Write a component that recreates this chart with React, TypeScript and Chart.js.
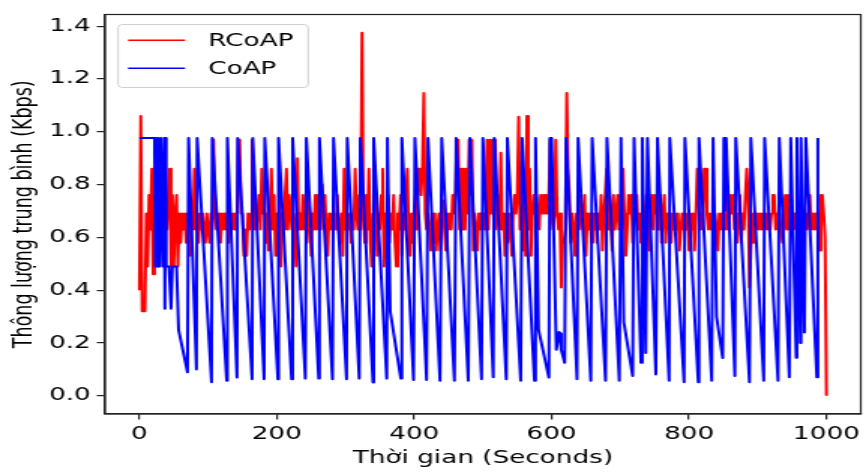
import React, { useEffect, useRef } from "react";
import { Chart, registerables } from "chart.js";

Chart.register(...registerables);

// ---------- data ----------
const SERIES_NAMES = ["RCoAP", "CoAP"];
const X_TITLE = "Thời gian (Seconds)";
const Y_TITLE = "Thông lượng trung bình (Kbps)";
const X_TICKS = [0, 200, 400, 600, 800, 1000];
const Y_TICKS = [0, 0.2, 0.4, 0.6, 0.8, 1.0, 1.2, 1.4];

// RCoAP: one sample every 2 seconds, from t = 0 to t = 1000
const RCOAP_STEP = 2;
const rcoapValues = [
  0.40, 1.06, 0.32, 0.32, 0.32, 0.69, 0.49, 0.76, 0.63, 0.86, 0.46, 0.76, 0.55, 0.76, 0.49, 0.69, 0.58, 0.76, 0.53, 0.69, 0.63, 0.76, 0.86, 0.49, 0.76,
  0.49, 0.69, 0.76, 0.49, 0.69, 0.58, 0.69, 0.63, 0.69, 0.58, 0.69, 0.63, 0.53, 0.69, 0.63, 0.86, 0.63, 0.69, 0.58, 0.69, 0.63, 0.69, 0.63, 0.58, 0.69,
  0.63, 0.58, 0.69, 0.63, 0.97, 0.69, 0.63, 0.69, 0.63, 0.58, 0.69, 0.63, 0.69, 0.63, 0.69, 0.58, 0.69, 0.63, 0.69, 0.63, 0.69, 0.63, 0.97, 0.97, 0.69,
  0.69, 0.53, 0.63, 0.53, 0.69, 0.63, 0.69, 0.97, 0.63, 0.76, 0.63, 0.69, 0.76, 0.63, 0.86, 0.69, 0.76, 0.58, 0.69, 0.55, 0.69, 0.86, 0.63, 0.76, 0.53,
  0.69, 0.53, 0.76, 0.49, 0.69, 0.63, 0.76, 0.86, 0.63, 0.76, 0.69, 0.63, 0.69, 0.63, 0.49, 0.90, 0.63, 0.69, 0.63, 0.76, 0.63, 0.69, 0.58, 0.76, 0.69,
  0.53, 0.69, 0.63, 0.76, 0.63, 0.69, 0.76, 0.63, 0.80, 0.69, 0.76, 0.63, 0.53, 0.69, 0.63, 0.69, 0.63, 0.69, 0.63, 0.76, 0.63, 0.58, 0.69, 0.53, 0.86,
  0.63, 0.69, 0.63, 0.69, 0.58, 0.69, 0.63, 0.86, 0.69, 0.63, 0.76, 0.63, 1.375, 0.69, 0.58, 0.76, 0.63, 0.86, 0.58, 0.49, 0.69, 0.63, 0.76, 0.53, 0.69,
  0.63, 0.76, 0.86, 0.49, 0.69, 0.63, 0.76, 0.58, 0.69, 0.63, 0.76, 0.58, 0.49, 0.69, 0.63, 0.76, 0.53, 0.69, 0.63, 0.76, 0.86, 0.63, 0.53, 0.69, 0.58,
  0.69, 0.76, 0.63, 0.86, 0.86, 0.76, 0.86, 1.147, 0.69, 0.63, 0.69, 0.63, 0.55, 0.69, 0.58, 0.69, 0.55, 0.63, 0.69, 0.55, 0.69, 0.74, 0.63, 0.55, 0.69,
  0.63, 0.69, 0.63, 0.76, 0.69, 0.76, 0.97, 0.97, 0.63, 0.86, 0.63, 0.86, 0.63, 0.86, 0.69, 0.97, 0.76, 0.97, 0.55, 0.69, 0.63, 0.55, 0.69, 0.63, 0.69,
  0.63, 0.69, 0.63, 0.97, 0.63, 0.97, 0.69, 0.97, 0.63, 0.97, 0.69, 0.76, 0.63, 0.92, 0.63, 0.69, 0.53, 0.69, 0.58, 0.69, 0.63, 0.53, 0.69, 0.76, 0.69,
  0.76, 1.057, 0.63, 0.86, 0.55, 0.76, 0.53, 1.06, 0.63, 0.86, 0.53, 0.69, 0.76, 0.69, 0.76, 0.69, 0.63, 0.76, 0.69, 0.76, 0.69, 0.76, 0.69, 0.76, 0.97,
  0.69, 0.63, 0.69, 0.97, 0.69, 0.63, 0.69, 0.41, 0.58, 0.58, 0.63, 1.147, 0.86, 0.76, 0.58, 0.69, 0.63, 0.53, 0.69, 0.76, 0.63, 0.76, 0.69, 0.63, 0.76,
  0.53, 0.69, 0.63, 0.69, 0.58, 0.69, 0.63, 0.69, 0.58, 0.69, 0.63, 0.76, 0.55, 0.69, 0.76, 0.86, 0.63, 0.76, 0.69, 0.55, 0.76, 0.63, 0.69, 0.76, 0.63,
  0.76, 0.63, 0.86, 0.69, 0.53, 0.63, 0.76, 0.69, 0.76, 0.58, 0.76, 0.69, 0.76, 0.63, 0.69, 0.58, 0.69, 0.63, 0.69, 0.76, 0.63, 0.55, 0.69, 0.76, 0.63,
  0.76, 0.69, 0.76, 0.63, 0.76, 0.58, 0.69, 0.76, 0.58, 0.69, 0.63, 0.69, 0.58, 0.69, 0.63, 0.69, 0.63, 0.69, 0.55, 0.63, 0.69, 0.63, 0.69, 0.63, 0.69,
  0.55, 0.69, 0.63, 0.69, 0.55, 0.69, 0.86, 0.76, 0.63, 0.69, 0.63, 0.86, 0.86, 0.69, 0.63, 0.69, 0.63, 0.69, 0.63, 0.69, 0.63, 0.55, 0.69, 0.63, 0.69,
  0.63, 0.69, 0.63, 0.76, 0.63, 0.76, 0.69, 0.76, 0.63, 0.76, 0.58, 0.69, 0.76, 0.58, 0.69, 0.63, 0.76, 0.86, 0.76, 0.41, 0.55, 0.69, 0.58, 0.69, 0.63,
  0.69, 0.63, 0.69, 0.63, 0.69, 0.63, 0.69, 0.63, 0.69, 0.63, 0.69, 0.76, 0.76, 0.63, 0.69, 0.63, 0.69, 0.63, 0.58, 0.69, 0.76, 0.63, 0.76, 0.69, 0.63,
  0.69, 0.63, 0.69, 0.63, 0.69, 0.63, 0.69, 0.63, 0.69, 0.63, 0.69, 0.63, 0.69, 0.76, 0.63, 0.69, 0.63, 0.69, 0.63, 0.69, 0.55, 0.76, 0.76, 0.69, 0.60,
  0.0,
];

// CoAP: sawtooth vertices (time in seconds, value in Kbps)
const coapTime = [
  0, 22, 23, 24, 26, 27, 29, 31, 33, 34, 36, 37, 38, 39, 43, 46, 48, 54, 57, 70,
  71.5, 83, 84, 105, 106, 127, 128, 142, 143, 164,
  165, 181.5, 182.5, 201.5, 202.5, 221.5, 223, 241.5, 243, 261,
  262, 281, 282.5, 301.5, 302.5, 320, 321.5, 340, 341, 360,
  361, 365, 380.5, 382, 399, 401, 418, 420, 437.5, 440,
  458.5, 461, 478.7, 481, 498, 500, 515, 516.5, 534, 535.5,
  555, 557, 575, 576.6, 581, 596, 597.5, 600, 606.8, 610.8,
  612, 614, 619, 621, 637, 638.5, 657, 659, 678.5, 680.5,
  698.5, 701, 705, 718, 720, 730, 732, 737, 739.5, 751.7,
  754, 771, 772, 792.8, 794, 813.5, 814.5, 833, 835, 840,
  849, 850.7, 852, 854, 866.7, 868, 888, 890, 908.7, 910,
  929.5, 931.4, 946, 948, 956, 957, 962, 963, 968, 970,
  986, 987.5,
];
const coapValue = [
  0.976, 0.976, 0.49, 0.976, 0.49, 0.976, 0.49, 0.976, 0.976, 0.49, 0.976, 0.33, 0.976, 0.49, 0.49, 0.33, 0.49, 0.49, 0.25, 0.089,
  0.976, 0.1, 0.976, 0.051, 0.976, 0.057, 0.976, 0.069, 0.976, 0.063,
  0.976, 0.063, 0.976, 0.063, 0.976, 0.063, 0.976, 0.065, 0.976, 0.065,
  0.976, 0.063, 0.976, 0.063, 0.976, 0.065, 0.976, 0.05, 0.976, 0.065,
  0.976, 0.32, 0.065, 0.976, 0.06, 0.976, 0.06, 0.976, 0.057, 0.976,
  0.057, 0.976, 0.057, 0.976, 0.063, 0.976, 0.07, 0.976, 0.063, 0.976,
  0.057, 0.976, 0.057, 0.976, 0.25, 0.069, 0.976, 0.976, 0.174, 0.242,
  0.236, 0.174, 0.125, 0.976, 0.063, 0.976, 0.057, 0.976, 0.057, 0.976,
  0.057, 0.976, 0.28, 0.075, 0.976, 0.125, 0.976, 0.162, 0.976, 0.081,
  0.976, 0.057, 0.976, 0.051, 0.976, 0.051, 0.976, 0.057, 0.976, 0.3,
  0.143, 0.976, 0.7, 0.976, 0.075, 0.976, 0.051, 0.976, 0.057, 0.976,
  0.057, 0.976, 0.07, 0.976, 0.144, 0.976, 0.2, 0.976, 0.24, 0.976,
  0.07, 0.976,
];

// ---------- layout (canvas drawn narrow, shown stretched like the source image) ----------
const OUT_W = 866;
const OUT_H = 472;
const STRETCH = 1.5;
const CANVAS_W = Math.round(OUT_W / STRETCH);
const FONT = '"DejaVu Sans", "Liberation Sans", sans-serif';
const FONT_SIZE = 17.5;

const decorPlugin = {
  id: "decor",
  afterDatasetsDraw(chart: any) {
    const { ctx, chartArea: a } = chart;
    ctx.save();
    // full frame (matplotlib spines)
    ctx.strokeStyle = "#222";
    ctx.lineWidth = 1.2;
    ctx.strokeRect(a.left, a.top, a.right - a.left, a.bottom - a.top);

    // legend box in upper-left corner
    const bx = a.left + 8.7;
    const by = a.top + 10;
    const bw = 126.6;
    const bh = 63;
    ctx.beginPath();
    if ((ctx as any).roundRect) (ctx as any).roundRect(bx, by, bw, bh, 3);
    else ctx.rect(bx, by, bw, bh);
    ctx.fillStyle = "rgba(255,255,255,0.85)";
    ctx.fill();
    ctx.strokeStyle = "#cfcfcf";
    ctx.lineWidth = 1;
    ctx.stroke();

    const ds = chart.data.datasets;
    const rows = [by + 15.7, by + 43.7];
    ds.forEach((d: any, i: number) => {
      ctx.beginPath();
      ctx.strokeStyle = d.borderColor;
      ctx.lineWidth = 1.5;
      ctx.moveTo(bx + 6.6, rows[i]);
      ctx.lineTo(bx + 44.6, rows[i]);
      ctx.stroke();
      ctx.fillStyle = "#000";
      ctx.font = `${FONT_SIZE}px ${FONT}`;
      ctx.textAlign = "left";
      ctx.textBaseline = "middle";
      ctx.fillText(d.label, bx + 60, rows[i] + 1);
    });
    ctx.restore();
  },
};

export default function App() {
  const canvasRef = useRef<HTMLCanvasElement | null>(null);

  useEffect(() => {
    const canvas = canvasRef.current;
    if (!canvas) return;
    Chart.defaults.font.family = FONT;

    const rcoapData = rcoapValues.map((v, i) => ({ x: i * RCOAP_STEP, y: v }));
    const coapData = coapTime.map((t, i) => ({ x: t, y: coapValue[i] }));

    const chart = new Chart(canvas, {
      type: "line",
      data: {
        datasets: [
          {
            label: SERIES_NAMES[0],
            data: rcoapData,
            borderColor: "#ff0000",
            backgroundColor: "#ff0000",
            borderWidth: 2,
            pointRadius: 0,
            tension: 0,
            borderJoinStyle: "round",
            order: 2,
          },
          {
            label: SERIES_NAMES[1],
            data: coapData,
            borderColor: "#0000ff",
            backgroundColor: "#0000ff",
            borderWidth: 2,
            pointRadius: 0,
            tension: 0,
            borderJoinStyle: "round",
            order: 1,
          },
        ],
      },
      options: {
        animation: false,
        responsive: false,
        devicePixelRatio: 1,
        parsing: false,
        normalized: true,
        layout: { padding: { left: 0, right: CANVAS_W - 574.7, top: 7, bottom: 0 } },
        plugins: {
          legend: { display: false },
          tooltip: { enabled: false },
        },
        scales: {
          x: {
            type: "linear",
            min: -50,
            max: 1050,
            afterBuildTicks: (s: any) => {
              s.ticks = X_TICKS.map((v) => ({ value: v }));
            },
            afterFit: (s: any) => {
              s.height = 58;
            },
            grid: { drawOnChartArea: false, drawTicks: true, tickLength: 5.5, color: "#222", lineWidth: 1.2 },
            border: { display: true, color: "#222", width: 1.2 },
            ticks: {
              color: "#000",
              font: { size: FONT_SIZE },
              padding: 4,
              maxRotation: 0,
              autoSkip: false,
              callback: (v: any) => String(v),
            },
            title: {
              display: true,
              text: X_TITLE,
              color: "#000",
              font: { size: FONT_SIZE },
              padding: { top: 0, bottom: 3 },
            },
          },
          y: {
            type: "linear",
            min: -0.069,
            max: 1.444,
            afterBuildTicks: (s: any) => {
              s.ticks = Y_TICKS.map((v) => ({ value: v }));
            },
            afterFit: (s: any) => {
              s.width = 70;
            },
            grid: { drawOnChartArea: false, drawTicks: true, tickLength: 5.5, color: "#222", lineWidth: 1.2 },
            border: { display: true, color: "#222", width: 1.2 },
            ticks: {
              color: "#000",
              font: { size: FONT_SIZE },
              padding: 4,
              autoSkip: false,
              callback: (v: any) => Number(v).toFixed(1),
            },
            title: {
              display: true,
              text: Y_TITLE,
              color: "#000",
              font: { size: FONT_SIZE },
              padding: { top: 5.8, bottom: 0 },
            },
          },
        },
      },
      plugins: [decorPlugin],
    } as any);

    return () => chart.destroy();
  }, []);

  return (
    <div
      style={{
        position: "fixed",
        left: 0,
        top: 0,
        width: OUT_W,
        height: OUT_H,
        background: "#ffffff",
        overflow: "hidden",
      }}
    >
      <canvas
        ref={canvasRef}
        width={CANVAS_W}
        height={OUT_H}
        style={{ width: `${OUT_W}px`, height: `${OUT_H}px`, display: "block" }}
      />
    </div>
  );
}
